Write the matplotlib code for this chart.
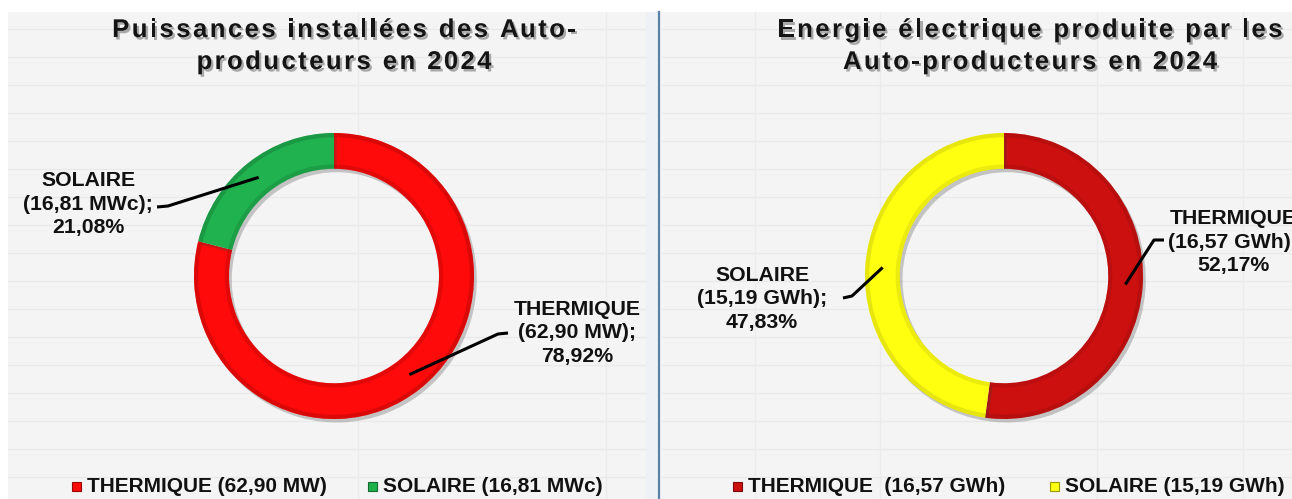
import matplotlib
matplotlib.use("Agg")
import matplotlib.pyplot as plt
import matplotlib.patheffects as pe
from matplotlib.patches import Rectangle
import numpy as np
from matplotlib.colors import to_rgb

# ---- data ----
left_title = ["Puissances installées des Auto-", "producteurs en 2024"]
left_names = ["THERMIQUE", "SOLAIRE"]
left_values = [62.90, 16.81]
left_units = ["MW", "MWc"]
left_pcts = [78.92, 21.08]
left_colors = ["#ff0a0a", "#1fb24f"]
left_legend = ["THERMIQUE (62,90 MW)", "SOLAIRE (16,81 MWc)"]

right_title = ["Energie électrique produite par les", "Auto-producteurs en 2024"]
right_names = ["THERMIQUE", "SOLAIRE"]
right_values = [16.57, 15.19]
right_units = ["GWh", "GWh"]
right_pcts = [52.17, 47.83]
right_colors = ["#cc1010", "#ffff10"]
right_legend = ["THERMIQUE  (16,57 GWh)", "SOLAIRE (15,19 GWh)"]

W, H = 1292, 499
FONT = "Liberation Sans"

fig = plt.figure(figsize=(W / 100, H / 100), dpi=100, facecolor="white")
bg = fig.add_axes([0, 0, 1, 1])
bg.set_xlim(0, W)
bg.set_ylim(H, 0)
bg.axis("off")

# panel background with faint cell grid
bg.add_patch(Rectangle((8, 12), W - 8, H - 12, facecolor="#f4f4f4", edgecolor="none", zorder=0))
for y in np.arange(28.5, H, 28):
    bg.plot([8, 657], [y, y], color="#e9e9e9", lw=0.9, zorder=0.5)
    bg.plot([662, W], [y, y], color="#e9e9e9", lw=0.9, zorder=0.5)
for x in [358, 606, 755, 880, 1097, 1243]:
    bg.plot([x, x], [12, H], color="#ebebeb", lw=0.9, zorder=0.5)
bg.add_patch(Rectangle((646, 12), 12, H - 12, facecolor="#eef2f6", edgecolor="none", zorder=0.6))
bg.plot([659, 659], [12, H], color="#5a7fa8", lw=1.6, zorder=1)

renderer = fig.canvas.get_renderer()


def text_width(s, size):
    t = bg.text(0, 0, s + "|", fontsize=size, fontweight="bold", family=FONT)
    w = t.get_window_extent(renderer).width
    t.remove()
    return w


def tracked_line(xc, y, s, size, track):
    bar = text_width("", size)
    offs = [text_width(s[:i], size) - bar for i in range(len(s) + 1)]
    total = offs[-1] + track * (len(s) - 1)
    x0 = xc - total / 2
    for i, ch in enumerate(s):
        if ch == " ":
            continue
        bg.text(x0 + offs[i] + i * track, y, ch, fontsize=size, fontweight="bold",
                family=FONT, color="#141414", ha="left", va="baseline", zorder=5,
                path_effects=[pe.SimplePatchShadow(offset=(1.6, -1.8), shadow_rgbFace="0.3", alpha=0.45),
                              pe.Normal()])


def darker(c, f=0.72):
    r, g, b = to_rgb(c)
    return (r * f, g * f, b * f)


def donut(cx, cy, rx, ry, values, colors, ring=0.25, rim_alpha=0.5):
    ax = fig.add_axes([(cx - rx) / W, (H - cy - ry) / H, 2 * rx / W, 2 * ry / H])
    wedges, _ = ax.pie(values, colors=colors, startangle=90, counterclock=False, radius=1,
                       wedgeprops=dict(width=ring, edgecolor="none", linewidth=0))
    for w in wedges:
        w.set_path_effects([pe.SimplePatchShadow(offset=(2, -2.5), shadow_rgbFace="0.2", alpha=0.25),
                            pe.Normal()])
    # bevel: darker rims on the outer and inner edges
    rim = 0.03
    ax.pie(values, colors=[darker(c) for c in colors], startangle=90, counterclock=False,
           radius=1, wedgeprops=dict(width=rim, edgecolor="none", alpha=rim_alpha))
    ax.pie(values, colors=[darker(c) for c in colors], startangle=90, counterclock=False,
           radius=1 - ring + rim, wedgeprops=dict(width=rim, edgecolor="none", alpha=rim_alpha * 0.8))
    ax.set_aspect("auto")
    ax.set_xlim(-1, 1)
    ax.set_ylim(-1, 1)
    ax.axis("off")
    # mid-ring anchor points for the leader lines, in figure pixels
    total = sum(values)
    cum = np.cumsum([0] + list(values))
    r_mid = 1 - ring / 2
    pts = []
    for i, v in enumerate(values):
        theta = np.deg2rad(90 - 360 * (cum[i] + v / 2) / total)
        pts.append((cx + rx * r_mid * np.cos(theta), cy - ry * r_mid * np.sin(theta)))
    return pts


def fmt(v):
    return f"{v:.2f}".replace(".", ",")


# ---- titles ----
tracked_line(344, 37, left_title[0], 18.5, 2.4)
tracked_line(344, 69, left_title[1], 18.5, 2.4)
tracked_line(1030, 37, right_title[0], 18.5, 2.4)
tracked_line(1030, 69, right_title[1], 18.5, 2.4)

# ---- rings ----
lp = donut(334, 276, 140, 143, left_values, left_colors, rim_alpha=0.5)
rp = donut(1004, 276, 139, 143, right_values, right_colors, rim_alpha=0.35)

# overlay for labels, leader lines and legends
fg = fig.add_axes([0, 0, 1, 1])
fg.set_xlim(0, W)
fg.set_ylim(H, 0)
fg.axis("off")
fg.patch.set_alpha(0)


def label(x, y, name, val, unit, pct):
    fg.text(x, y, f"{name}\n({fmt(val)} {unit});\n{fmt(pct)}%", fontsize=15.3,
            fontweight="bold", family=FONT, ha="center", va="center",
            multialignment="center", linespacing=1.28, color="#111111", zorder=6)


def leader(start, elbow, end):
    fg.plot([start[0], elbow[0], end[0]], [start[1], elbow[1], end[1]],
            color="black", lw=2.2, solid_capstyle="butt", solid_joinstyle="round", zorder=7)


def legend_item(x, y, color, text):
    fg.add_patch(Rectangle((x, y - 5), 9, 9, facecolor=color, edgecolor=darker(color, 0.6),
                           lw=0.8, zorder=6))
    fg.text(x + 15, y, text, fontsize=15, fontweight="bold", family=FONT,
            ha="left", va="center", color="#111111", zorder=6)


# ---- left chart annotations ----
label(577, 333, left_names[0], left_values[0], left_units[0], left_pcts[0])
label(88, 204, left_names[1], left_values[1], left_units[1], left_pcts[1])
leader((508, 333), (498, 334), lp[0])
leader((157, 207), (168, 206), lp[1])
legend_item(72, 487, left_colors[0], left_legend[0])
legend_item(368, 487, left_colors[1], left_legend[1])

# ---- right chart annotations ----
label(1233, 242, right_names[0], right_values[0], right_units[0], right_pcts[0])
label(762, 299, right_names[1], right_values[1], right_units[1], right_pcts[1])
leader((1164, 240), (1154, 240), rp[0])
leader((843, 298), (852, 296), rp[1])
legend_item(733, 487, right_colors[0], right_legend[0])
legend_item(1050, 487, right_colors[1], right_legend[1])

fig.savefig("out.png", dpi=100, facecolor="white")
